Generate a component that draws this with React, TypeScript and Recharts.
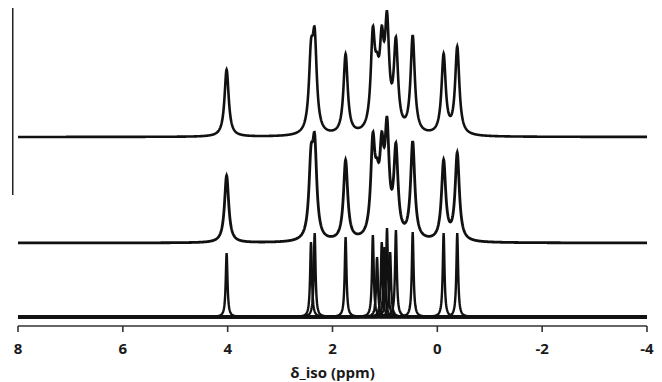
import React from 'react';
import { LineChart, Line, XAxis, YAxis, ReferenceLine } from 'recharts';

// peak centres (ppm)
const shifts = [4.02, 2.41, 2.34, 1.75, 1.23, 1.15, 1.06, 1.01, 0.96, 0.9, 0.79, 0.47, -0.12, -0.38];
// peak heights of the two upper (broad) spectra
const broadHeights = [67, 69, 86, 80, 90, 36, 74, 0, 99, 0, 86, 97, 79, 87];
// peak heights of the individual narrow lines in the bottom trace
const narrowHeights = [64, 75, 84, 80, 82, 60, 75, 70, 89, 65, 87, 85, 84, 84];
// half widths at half height (ppm)
const broadHalfWidth = 0.048;
const narrowHalfWidth = 0.02;
// baselines of the stacked traces
const topBaseline = 189;
const middleBaseline = 83;
const bottomBaseline = 9;
const xTicks = [8, 6, 4, 2, 0, -2, -4];

const lorentz = (x: number, c: number, h: number, w: number) => {
  const d = (x - c) / w;
  return h / (1 + d * d);
};

// sample the spectra on a fine ppm grid
const buildData = () => {
  const rows: any[] = [];
  for (let i = 0; i <= 2400; i++) {
    const ppm = Math.round((8 - i * 0.005) * 1000) / 1000;
    let broad = 0;
    shifts.forEach((c, k) => {
      broad += lorentz(ppm, c, broadHeights[k], broadHalfWidth);
    });
    const row: any = {
      ppm,
      top: topBaseline + broad,
      middle: middleBaseline + broad,
    };
    shifts.forEach((c, k) => {
      row['n' + k] = bottomBaseline + lorentz(ppm, c, narrowHeights[k], narrowHalfWidth);
    });
    rows.push(row);
  }
  return rows;
};

const data = buildData();

const font = '"Open Sans", "Noto Sans", sans-serif';
const textStyle = { fontSize: 15, fontWeight: 700, fill: '#1a1a1a', fontFamily: font };

const App: React.FC = () => {
  return (
    <div style={{ position: 'absolute', left: 0, top: 0, width: 662, height: 382, background: '#fff' }}>
      <LineChart
        width={662}
        height={382}
        data={data}
        margin={{ top: 8, right: 15, left: 18, bottom: 0 }}
      >
        <XAxis
          dataKey="ppm"
          type="number"
          domain={[-4, 8]}
          reversed
          ticks={xTicks}
          interval={0}
          height={56}
          stroke="#333"
          strokeWidth={1.6}
          tickSize={6}
          tickMargin={11}
          tick={textStyle}
          label={{ value: 'δ_iso (ppm)', position: 'insideBottom', offset: 4, style: textStyle }}
        />
        <YAxis hide domain={[0, 318]} type="number" />
        <ReferenceLine
          segment={[{ x: 8.1, y: 131 }, { x: 8.1, y: 318 }]}
          ifOverflow="visible"
          stroke="#222"
          strokeWidth={1.5}
        />
        <Line
          dataKey="top"
          type="linear"
          stroke="#111"
          strokeWidth={2.6}
          dot={false}
          activeDot={false}
          isAnimationActive={false}
        />
        <Line
          dataKey="middle"
          type="linear"
          stroke="#111"
          strokeWidth={2.8}
          dot={false}
          activeDot={false}
          isAnimationActive={false}
        />
        {shifts.map((_, k) => (
          <Line
            key={k}
            dataKey={'n' + k}
            type="linear"
            stroke="#111"
            strokeWidth={2.4}
            dot={false}
            activeDot={false}
            isAnimationActive={false}
          />
        ))}
      </LineChart>
    </div>
  );
};

export default App;
